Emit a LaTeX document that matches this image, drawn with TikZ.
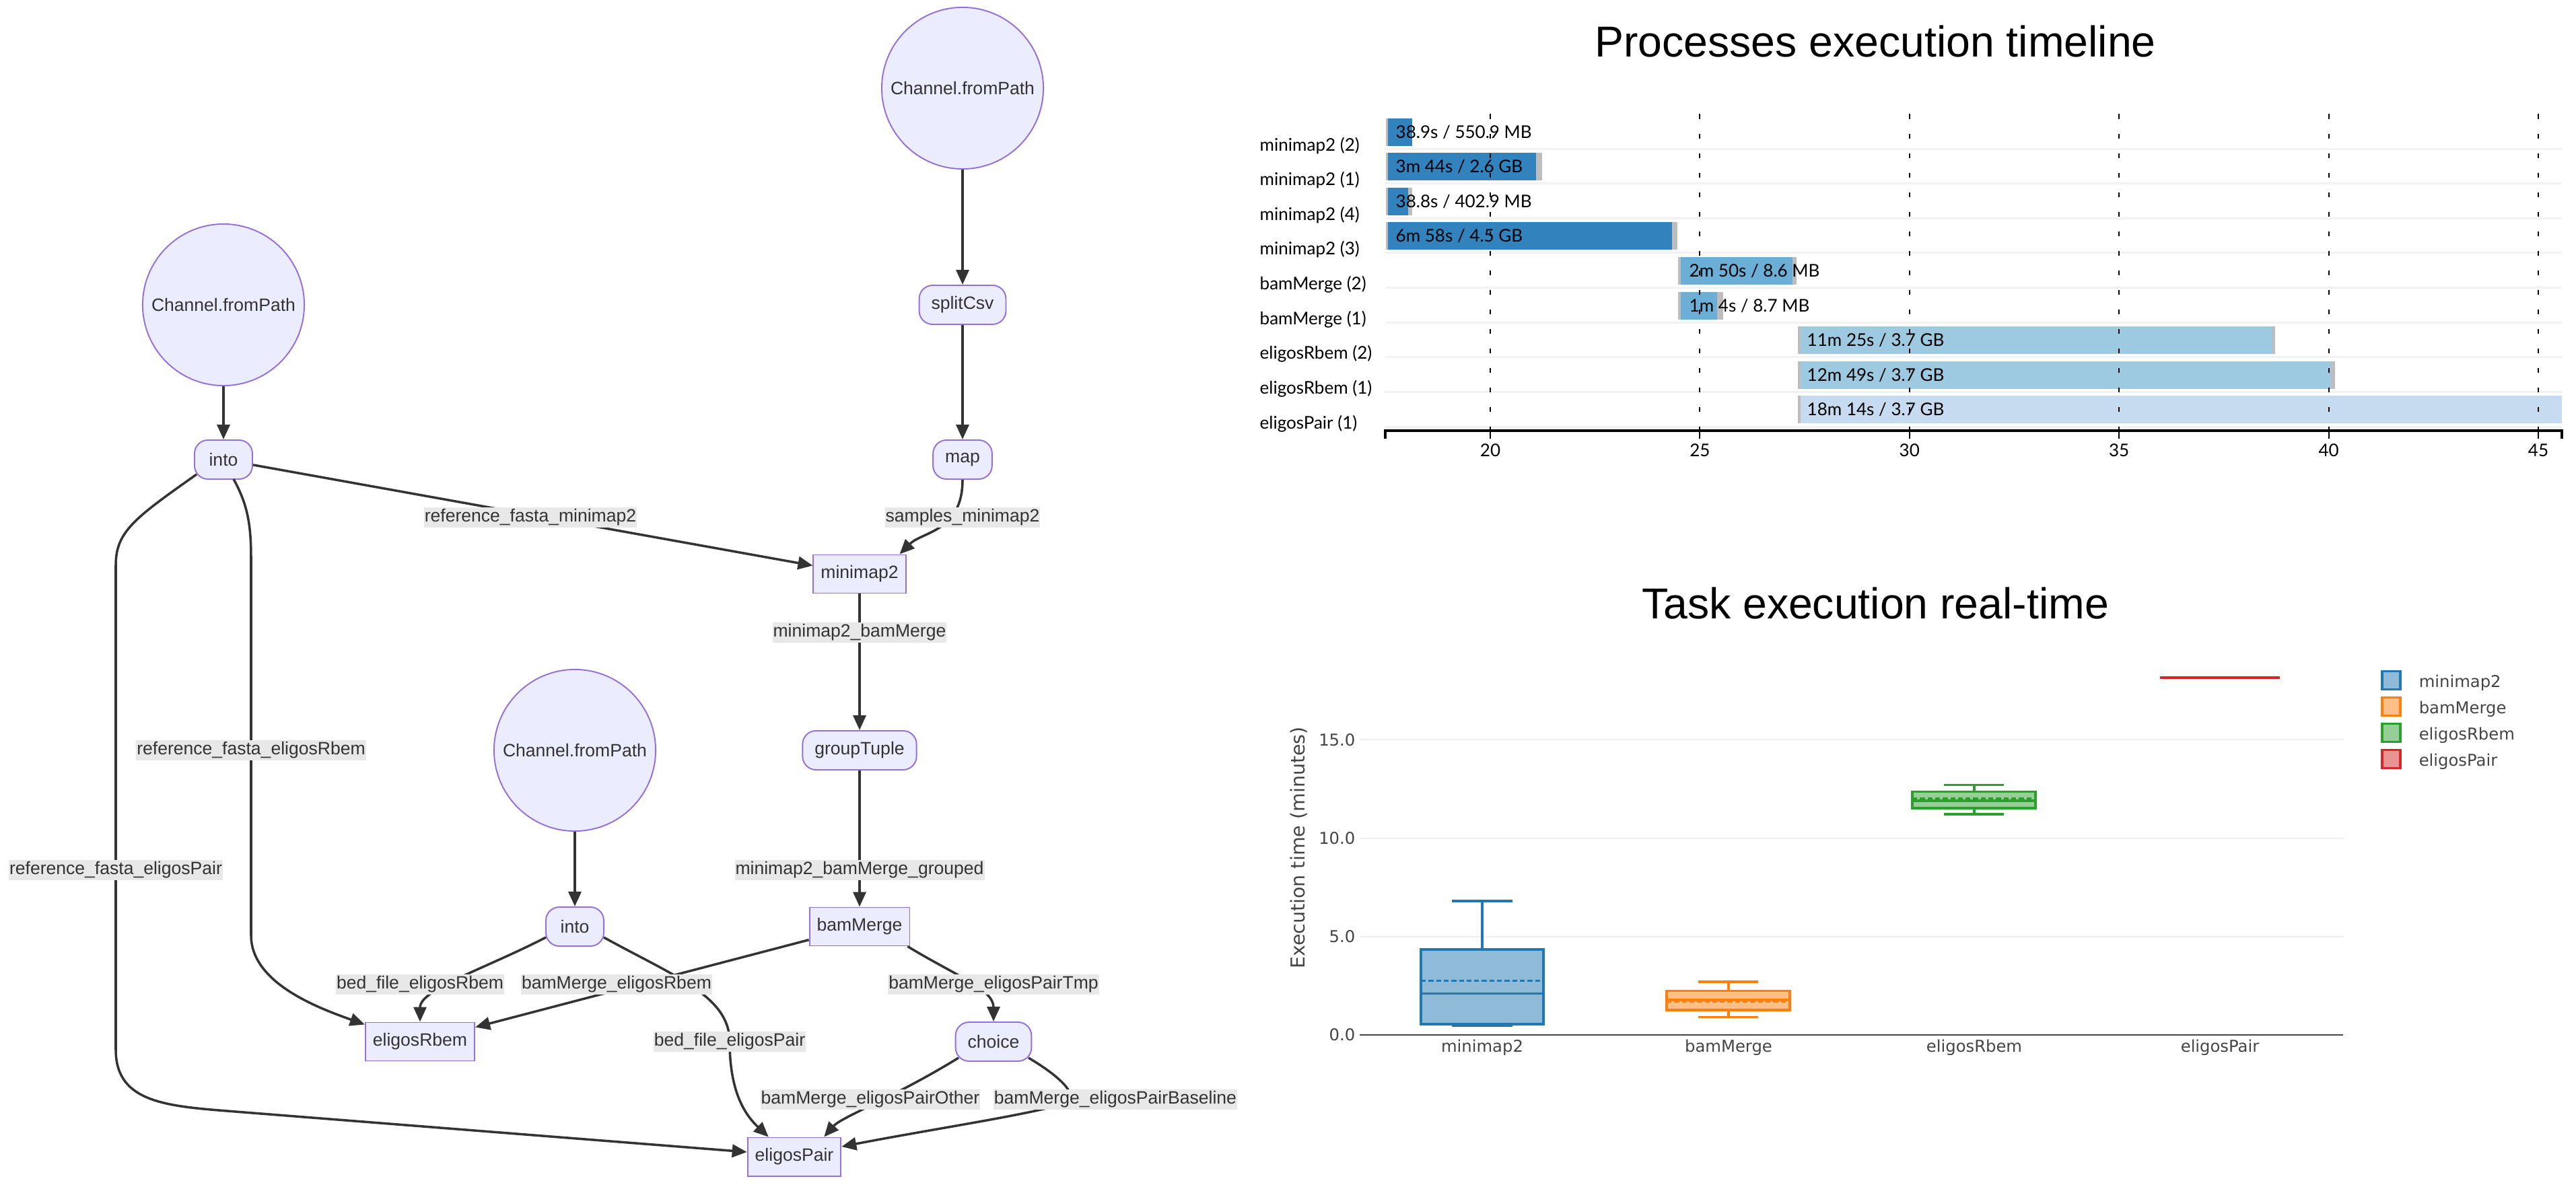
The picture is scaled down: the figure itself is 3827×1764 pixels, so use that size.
\documentclass[tikz,border=0pt]{standalone}
\usepackage{fontspec}
\setmainfont{Liberation Sans}
\newfontfamily\latofont{Lato}
\newfontfamily\dejafont{DejaVu Sans}
\usetikzlibrary{arrows.meta,calc}

\definecolor{nodefill}{HTML}{ECECFF}
\definecolor{nodeline}{HTML}{9370DB}
\definecolor{edgeline}{HTML}{333333}
\definecolor{labelfill}{HTML}{E8E8E8}
\definecolor{axisgrey}{HTML}{444444}
\definecolor{gridgrey}{HTML}{EEEEEE}
\definecolor{rowgrey}{HTML}{F2F2F2}
\definecolor{waitgrey}{HTML}{BDBDBD}
\definecolor{blueA}{HTML}{3182BD}
\definecolor{blueB}{HTML}{6BAED6}
\definecolor{blueC}{HTML}{9ECAE1}
\definecolor{blueD}{HTML}{C6DBEF}
\definecolor{mmcol}{HTML}{1F77B4}
\definecolor{bmcol}{HTML}{FF7F0E}
\definecolor{rbcol}{HTML}{2CA02C}
\definecolor{pacol}{HTML}{D62728}

\newcommand\flowfont{\fontsize{7.55}{9}\selectfont}
\newcommand\tlfont{\latofont\fontsize{7.4}{9}\selectfont}
\newcommand\bxfont{\dejafont\fontsize{6.9}{8}\selectfont}
\newcommand\titlefont{\fontsize{18.3}{22}\selectfont}

\begin{document}
\begin{tikzpicture}[x=0.01cm,y=-0.01cm]
\useasboundingbox[fill=white] (0,0) rectangle (3827,1764);
\tikzstyle{srcnode}=[circle,draw=nodeline,fill=nodefill,line width=0.55pt,minimum size=2.4cm,inner sep=0pt,text=edgeline,font=\flowfont]
\tikzstyle{opnode}=[rectangle,rounded corners=0.2cm,draw=nodeline,fill=nodefill,line width=0.55pt,minimum height=0.58cm,minimum width=0.86cm,inner xsep=0.18cm,text=edgeline,font=\flowfont]
\tikzstyle{procnode}=[rectangle,draw=nodeline,fill=nodefill,line width=0.55pt,minimum height=0.57cm,inner xsep=0.11cm,text=edgeline,font=\flowfont]
\tikzstyle{edgelabel}=[fill=labelfill,inner xsep=0.01cm,inner ysep=0pt,minimum height=0.3cm,text=edgeline,font=\flowfont]
\tikzstyle{flowarrow}=[draw=edgeline,line width=1pt,-{Triangle[length=0.22cm,width=0.19cm]}]
\tikzstyle{bartext}=[anchor=west,inner sep=0pt,font=\tlfont]
\tikzstyle{rowlabel}=[anchor=base west,inner sep=0pt,font=\tlfont]
\tikzstyle{bxtext}=[inner sep=0pt,text=axisgrey,font=\bxfont]
\tikzset{boxline/.style={draw=#1,fill=#1!50,line width=0.033cm},
         whisk/.style={draw=#1,line width=0.033cm}}

% ---- dataflow graph
\node[srcnode](src1) at (1430,131) {Channel.fromPath};
\node[srcnode](src2) at (332,453) {Channel.fromPath};
\node[srcnode](src3) at (854,1115) {Channel.fromPath};
\node[opnode](splitCsv) at (1430,453) {splitCsv};
\node[opnode](map) at (1430,683) {map};
\node[opnode](into1) at (332,683) {into};
\node[procnode](minimap2) at (1277,853) {minimap2};
\node[opnode](groupTuple) at (1277,1115) {groupTuple};
\node[procnode](bamMerge) at (1277,1377) {bamMerge};
\node[opnode](into2) at (854,1377) {into};
\node[procnode](eligosRbem) at (624,1548) {eligosRbem};
\node[opnode](choice) at (1476,1548) {choice};
\node[procnode](eligosPair) at (1180,1719) {eligosPair};
\coordinate (lp-bedPair) at (1084,1548);

\draw[flowarrow](src1) -- (splitCsv);
\draw[flowarrow](splitCsv) -- (map);
\draw[flowarrow](src2) -- (into1);
\draw[flowarrow](src3) -- (into2);
\draw[flowarrow](into1) -- (minimap2);
\draw[flowarrow](map.south) .. controls (1430,790) and (1370,790) .. ($(minimap2.north east)+(-10,0)$);
\draw[flowarrow](minimap2) -- (groupTuple);
\draw[flowarrow](groupTuple) -- (bamMerge);
\draw[flowarrow]($(into1.center)+(15,29)$) .. controls (368,750) and (373,780) .. (373,830) -- (373,1390) .. controls (373,1460) and (470,1497) .. ($(eligosRbem.north west)+(0,4)$);
\draw[flowarrow]($(into1.center)+(-40,22)$) .. controls (200,770) and (172,790) .. (172,840) -- (172,1560) .. controls (172,1640) and (250,1644) .. (350,1652) -- ($(eligosPair.west)+(0,-7)$);
\draw[flowarrow]($(into2.center)+(-43,16)$) .. controls (720,1440) and (624,1470) .. (eligosRbem.north);
\draw[flowarrow]($(into2.center)+(43,16)$) .. controls (1000,1450) and (1084,1480) .. (lp-bedPair) .. controls (1084,1620) and (1105,1655) .. ($(eligosPair.north west)+(32,0)$);
\draw[flowarrow](bamMerge) -- (eligosRbem);
\draw[flowarrow]($(bamMerge.south east)+(-4,0)$) .. controls (1420,1450) and (1476,1470) .. (choice.north);
\draw[flowarrow]($(choice.center)+(-52,24)$) .. controls (1330,1630) and (1250,1660) .. ($(eligosPair.north east)+(-26,0)$);
\draw[flowarrow]($(choice.center)+(52,24)$) .. controls (1575,1600) and (1595,1622) .. (1590,1634) .. controls (1585,1648) and (1400,1675) .. ($(eligosPair.east)+(0,-15)$);

\node[edgelabel](lab-refmm) at (788,769) {reference\_fasta\_minimap2};
\node[edgelabel](lab-samples) at (1430,769) {samples\_minimap2};
\node[edgelabel](lab-mmbm) at (1277,940) {minimap2\_bamMerge};
\node[edgelabel](lab-grouped) at (1277,1293) {minimap2\_bamMerge\_grouped};
\node[edgelabel](lab-refRbem) at (373,1115) {reference\_fasta\_eligosRbem};
\node[edgelabel](lab-refPair) at (172,1293) {reference\_fasta\_eligosPair};
\node[edgelabel](lab-bedRbem) at (624,1463) {bed\_file\_eligosRbem};
\node[edgelabel](lab-bmRbem) at (916,1463) {bamMerge\_eligosRbem};
\node[edgelabel](lab-tmp) at (1476,1463) {bamMerge\_eligosPairTmp};
\node[edgelabel](lab-bedPair) at (lp-bedPair) {bed\_file\_eligosPair};
\node[edgelabel](lab-other) at (1293,1634) {bamMerge\_eligosPairOther};
\node[edgelabel](lab-baseline) at (1657,1634) {bamMerge\_eligosPairBaseline};

% ---- timeline
\node[font=\titlefont,anchor=base,inner sep=0pt](tl-title) at (2786,85) {Processes execution timeline};
\foreach \s in {221.2,272.8,324.4,376,427.6,479.2,530.8,582.4,634}
  \draw[rowgrey,line width=0.03cm] (2058,\s) -- (3806,\s);

\fill[waitgrey] (2059,175.6) rectangle (2098,216.6);
\fill[blueA] (2062,175.6) rectangle (2098,216.6);
\fill[waitgrey] (2059,227.2) rectangle (2291,268.2);
\fill[blueA] (2062,227.2) rectangle (2282,268.2);
\fill[waitgrey] (2059,278.8) rectangle (2098,319.8);
\fill[blueA] (2062,278.8) rectangle (2092,319.8);
\fill[waitgrey] (2059,330.4) rectangle (2492,371.4);
\fill[blueA] (2062,330.4) rectangle (2484,371.4);
\fill[waitgrey] (2493,382) rectangle (2669,423);
\fill[blueB] (2497,382) rectangle (2663,423);
\fill[waitgrey] (2493,433.6) rectangle (2560,474.6);
\fill[blueB] (2497,433.6) rectangle (2551,474.6);
\fill[waitgrey] (2671,485.2) rectangle (3380,526.2);
\fill[blueC] (2675,485.2) rectangle (3376,526.2);
\fill[waitgrey] (2671,536.8) rectangle (3469,577.8);
\fill[blueC] (2675,536.8) rectangle (3463,577.8);
\fill[waitgrey] (2671,588.4) rectangle (3806,629.4);
\fill[blueD] (2675,588.4) rectangle (3806,629.4);

\node[bartext](bar1) at (2073,196.1) {38.9s / 550.9 MB};
\node[bartext](bar2) at (2073,247.7) {3m 44s / 2.6 GB};
\node[bartext](bar3) at (2073,299.3) {38.8s / 402.9 MB};
\node[bartext](bar4) at (2073,350.9) {6m 58s / 4.5 GB};
\node[bartext](bar5) at (2509,402.5) {2m 50s / 8.6 MB};
\node[bartext](bar6) at (2509,454.1) {1m 4s / 8.7 MB};
\node[bartext](bar7) at (2684,505.7) {11m 25s / 3.7 GB};
\node[bartext](bar8) at (2684,557.3) {12m 49s / 3.7 GB};
\node[bartext](bar9) at (2684,608.9) {18m 14s / 3.7 GB};

\foreach \i/\lab in {1/{minimap2 (2)},2/{minimap2 (1)},3/{minimap2 (4)},4/{minimap2 (3)},5/{bamMerge (2)},6/{bamMerge (1)},7/{eligosRbem (2)},8/{eligosRbem (1)},9/{eligosPair (1)}}{
  \pgfmathsetmacro\yb{169.6+51.6*\i+3}
  \node[rowlabel](row\i) at (1871,\yb) {\lab};
}

\foreach \t in {20,25,...,45}{
  \pgfmathsetmacro\gx{2214+62.28*(\t-20)}
  \draw[black,line width=0.02cm,dash pattern=on 0.075cm off 0.215cm] (\gx,169.5) -- (\gx,640);
  \draw[black,line width=0.02cm] (\gx,640) -- (\gx,652);
  \node[anchor=base,inner sep=0pt,font=\tlfont](tick\t) at (\gx,678.5) {\t};
}
\draw[black,line width=0.04cm] (2058,652) -- (2058,640) -- (3806,640) -- (3806,652);

% ---- task real-time box plot
\node[font=\titlefont,anchor=base,inner sep=0pt](bx-title) at (2786,919) {Task execution real-time};
\foreach \v in {0,5,10,15}{
  \pgfmathsetmacro\gy{1538-29.24*\v}
  \draw[gridgrey,line width=0.02cm] (2020,\gy) -- (3481,\gy);
  \node[bxtext,anchor=east](ytick\v) at (2014,\gy) {\v.0};
}
\draw[axisgrey,line width=0.02cm] (2020,1538) -- (3481,1538);
\node[bxtext,rotate=90,font=\dejafont\fontsize{8.1}{10}\selectfont](ytitle) at (1930,1260) {Execution time (minutes)};

\node[bxtext,anchor=base](cat1) at (2202,1563) {minimap2};
\node[bxtext,anchor=base](cat2) at (2568,1563) {bamMerge};
\node[bxtext,anchor=base](cat3) at (2933,1563) {eligosRbem};
\node[bxtext,anchor=base](cat4) at (3298,1563) {eligosPair};

% minimap2
\draw[boxline=mmcol] (2111,1411) rectangle (2293,1522);
\draw[whisk=mmcol] (2111,1476.7) -- (2293,1476.7);
\draw[whisk=mmcol,dash pattern=on 0.073cm off 0.04cm] (2111,1457.7) -- (2293,1457.7);
\draw[whisk=mmcol] (2202,1411) -- (2202,1339) (2157,1339) -- (2247,1339);
\draw[whisk=mmcol] (2202,1522) -- (2202,1524) (2157,1524) -- (2247,1524);
% bamMerge
\draw[boxline=bmcol] (2476,1472.7) rectangle (2659,1501);
\draw[whisk=bmcol] (2476,1486) -- (2659,1486);
\draw[whisk=bmcol,dash pattern=on 0.073cm off 0.04cm] (2476,1488.5) -- (2659,1488.5);
\draw[whisk=bmcol] (2568,1472.7) -- (2568,1459) (2523,1459) -- (2612,1459);
\draw[whisk=bmcol] (2568,1501) -- (2568,1511.7) (2523,1511.7) -- (2612,1511.7);
% eligosRbem
\draw[boxline=rbcol] (2841,1176.7) rectangle (3024,1201);
\draw[whisk=rbcol] (2841,1190) -- (3024,1190);
\draw[whisk=rbcol,dash pattern=on 0.073cm off 0.04cm] (2841,1186.7) -- (3024,1186.7);
\draw[whisk=rbcol] (2933,1176.7) -- (2933,1166.7) (2888,1166.7) -- (2977,1166.7);
\draw[whisk=rbcol] (2933,1201) -- (2933,1210) (2888,1210) -- (2977,1210);
% eligosPair
\draw[pacol,line width=0.04cm] (3209,1007) -- (3387,1007);

\foreach \i/\col/\nm in {0/mmcol/minimap2,1/bmcol/bamMerge,2/rbcol/eligosRbem,3/pacol/eligosPair}{
  \pgfmathsetmacro\ly{1011+39*\i}
  \draw[boxline=\col] (3539,\ly-13.5) rectangle (3566,\ly+13.5);
  \node[bxtext,anchor=base west](leg\i) at (3593,\ly+10.7) {\nm};
}
\end{tikzpicture}
\end{document}
